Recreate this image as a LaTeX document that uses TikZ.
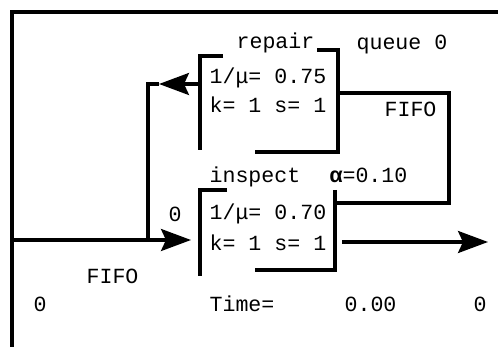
\documentclass[tikz,border=0pt]{standalone}
\usepackage{fontspec}
\newfontfamily\termfont{Liberation Mono}
\usetikzlibrary{arrows.meta,positioning}

\begin{document}
\begin{tikzpicture}[x=0.5pt,y=-0.5pt,line width=1.6pt,
    font=\termfont\fontsize{10.8}{13}\selectfont,
    txt/.style={inner sep=0pt,anchor=base west},
    flow/.style={-{Stealth[length=15pt,width=11pt,inset=2.5pt]}}]
  \useasboundingbox (0,0) rectangle (498,347);
  % frame
  \draw[line width=1.7pt] (12,347) -- (12,12) -- (498,12);

  % repair station
  \draw (223,56) -- (200,56) -- (200,150);
  \draw (317,50) -- (338,50) -- (338,152) -- (255,152);
  \node[txt] (repname) at (235,49) {repair};
  \node[txt] (repq) at (355,50) {queue 0};
  \node[txt] (repmu) at (208,84) {1/μ= 0.75};
  \node[txt] (repks) at (208,113) {k= 1 s= 1};
  \node[txt] (repfifo) at (383,117) {FIFO};

  % inspect station
  \draw (227,190) -- (200,190) -- (200,276);
  \draw (335,190) -- (335,270) -- (255,270);
  \node[txt] (insname) at (208,183) {inspect};
  \node[txt] (insalpha) at (328,183) {{\bfseries α}=0.10};
  \node[txt] (insq) at (167,222) {0};
  \node[txt] (insmu) at (208,220) {1/μ= 0.70};
  \node[txt] (insks) at (208,251) {k= 1 s= 1};

  % source, queue and clock
  \node[txt] (srcfifo) at (85,284) {FIFO};
  \node[txt] (srcn) at (32,312) {0};
  \node[txt] (clock) at (208,312) {Time=};
  \node[txt] (clockval) at (343,312) {0.00};
  \node[txt] (outn) at (472,312) {0};

  % connectors
  \coordinate (src) at (12,240);
  \coordinate (join) at (148,240);
  \coordinate (insin) at (191,240);
  \coordinate (repout) at (200,84);
  \coordinate (rettip) at (159,84);
  \coordinate (turn) at (148,84);
  \coordinate (fail) at (338,93);
  \coordinate (failc) at (449,93);
  \coordinate (failin) at (335,203);
  \coordinate (insout) at (342,242);
  \coordinate (sink) at (488,242);

  \draw[flow] (src) -- (insin);
  \draw[flow] (repout) -- (rettip);
  \draw (rettip) -- (turn) -- (join);
  \draw (fail) -- (failc) |- (failin);
  \draw[flow] (insout) -- (sink);
\end{tikzpicture}
\end{document}
